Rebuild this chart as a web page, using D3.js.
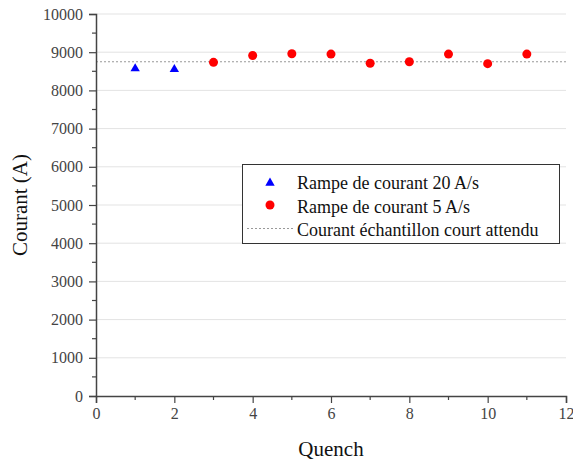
<!DOCTYPE html>
<html><head><meta charset="utf-8">
<script src="https://cdn.jsdelivr.net/npm/d3@7"></script>
<style>body{margin:0;background:#fff}svg{display:block}svg text{font-family:"Liberation Serif","Times New Roman",serif !important}</style>
</head><body>
<svg id="c" width="573" height="463"></svg>
<script>
const xTicks = [0,2,4,6,8,10,12];
const yTicks = [0,1000,2000,3000,4000,5000,6000,7000,8000,9000,10000];
const quench20 = [1,2];
const courant20 = [8570,8550];
const quench5 = [3,4,5,6,7,8,9,10,11];
const courant5 = [8735,8915,8960,8950,8710,8750,8950,8700,8950];
const attendu = 8750;
const legendLabels = ["Rampe de courant 20 A/s","Rampe de courant 5 A/s","Courant échantillon court attendu"];

const svg = d3.select("#c");
const L=96,R=566,T=14,B=396;
const x = d3.scaleLinear().domain([0,12]).range([L,R]);
const y = d3.scaleLinear().domain([0,10000]).range([B,T]);
const axCol="#444";

// grid
svg.append("g").selectAll("line").data(yTicks.filter(d=>d>0)).join("line")
  .attr("x1",L).attr("x2",R).attr("y1",d=>y(d)).attr("y2",d=>y(d))
  .attr("stroke","#e3e3e3").attr("stroke-width",1);

// expected line
svg.append("line").attr("x1",L).attr("x2",R).attr("y1",y(attendu)).attr("y2",y(attendu))
  .attr("stroke","#999").attr("stroke-width",1.2).attr("stroke-dasharray","2,2");

// axes
const yAxis = svg.append("g").attr("transform",`translate(${L},0)`)
  .call(d3.axisLeft(y).tickValues(yTicks).tickSize(7).tickPadding(6).tickFormat(d3.format("d")));
const xAxis = svg.append("g").attr("transform",`translate(0,${B})`)
  .call(d3.axisBottom(x).tickValues(xTicks).tickSize(7).tickPadding(5).tickFormat(d3.format("d")));
[yAxis,xAxis].forEach(a=>{
  a.attr("font-family","Liberation Serif, serif").attr("font-size",16);
  a.select(".domain").attr("stroke",axCol).attr("stroke-width",1.5);
  a.selectAll(".tick line").attr("stroke",axCol).attr("stroke-width",1.2);
  a.selectAll(".tick text").attr("fill","#444");
});
// minor ticks
svg.append("g").selectAll("line").data(d3.range(500,10000,1000)).join("line")
  .attr("x1",L-4).attr("x2",L).attr("y1",d=>y(d)).attr("y2",d=>y(d)).attr("stroke",axCol).attr("stroke-width",1.2);
svg.append("g").selectAll("line").data(d3.range(1,12,2)).join("line")
  .attr("y1",B).attr("y2",B+4).attr("x1",d=>x(d)).attr("x2",d=>x(d)).attr("stroke",axCol).attr("stroke-width",1.2);

// data
const tri = d3.symbol().type(d3.symbolTriangle).size(38);
svg.append("g").selectAll("path").data(quench20.map((q,i)=>[q,courant20[i]])).join("path")
  .attr("d",tri).attr("transform",d=>`translate(${x(d[0])},${y(d[1])})`).attr("fill","#0000ff");
svg.append("g").selectAll("circle").data(quench5.map((q,i)=>[q,courant5[i]])).join("circle")
  .attr("cx",d=>x(d[0])).attr("cy",d=>y(d[1])).attr("r",4.5).attr("fill","#ff0000");

// legend
const lg = svg.append("g");
lg.append("rect").attr("x",242.5).attr("y",164.5).attr("width",317).attr("height",79)
  .attr("fill","#fff").attr("stroke","#333").attr("stroke-width",1);
lg.append("path").attr("d",tri).attr("transform","translate(270,183)").attr("fill","#0000ff");
lg.append("circle").attr("cx",270).attr("cy",205).attr("r",4.5).attr("fill","#ff0000");
lg.append("line").attr("x1",247).attr("x2",293).attr("y1",228.5).attr("y2",228.5)
  .attr("stroke","#999").attr("stroke-width",1).attr("stroke-dasharray","2,2");
lg.selectAll("text").data(legendLabels).join("text")
  .attr("x",297).attr("y",(d,i)=>189+i*23.5).attr("fill","#111").style("font-size","18px").text(d=>d);

// titles
svg.append("text").attr("transform",`translate(27,${(T+B)/2}) rotate(-90)`).attr("text-anchor","middle")
  .style("font-size","21px").attr("fill","#111").text("Courant (A)");
svg.append("text").attr("x",(L+R)/2).attr("y",456).attr("text-anchor","middle")
  .style("font-size","21px").attr("fill","#111").text("Quench");
</script>
</body></html>
